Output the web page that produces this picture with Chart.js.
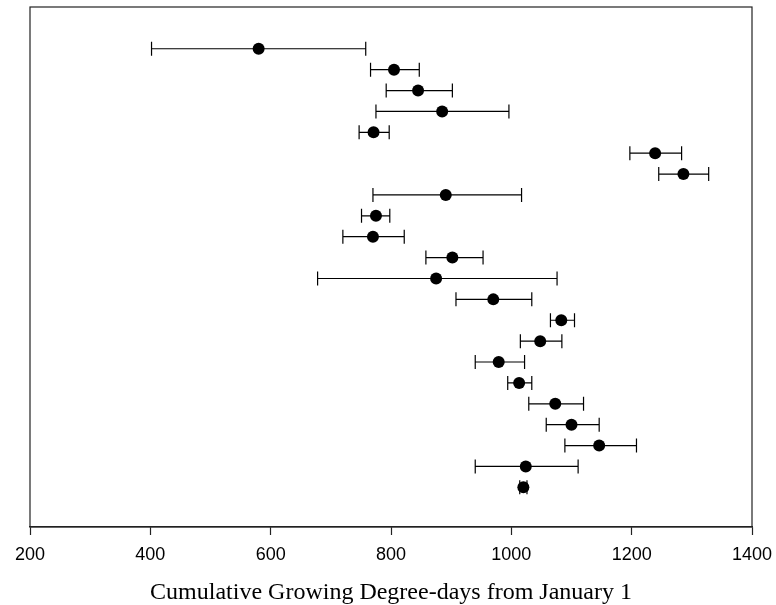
<!DOCTYPE html>
<html>
<head>
<meta charset="utf-8">
<script src="https://cdn.jsdelivr.net/npm/chart.js@4"></script>
<style>
  html, body { margin: 0; padding: 0; background: #fff; }
  #wrap { width: 776px; height: 605px; }
</style>
</head>
<body>
<div id="wrap"><canvas id="c" width="776" height="605"></canvas></div>
<script>
// Cumulative growing degree-days (mean, lower and upper bound) per row, top to bottom
const rows    = [1, 2, 3, 4, 5, 6, 7, 8, 9, 10, 11, 12, 13, 14, 15, 16, 17, 18, 19, 20, 21, 22];
const means   = [580, 805, 845, 885, 771, 1239, 1286, 891, 775, 770, 902, 875, 970, 1083, 1048, 979, 1013, 1073, 1100, 1146, 1024, 1020];
const lows    = [402, 766, 792, 775, 747, 1197, 1245, 770, 751, 720, 858, 678, 908, 1065, 1015, 940, 994, 1029, 1058, 1089, 940, 1014];
const highs   = [758, 847, 902, 996, 797, 1283, 1328, 1017, 798, 822, 953, 1076, 1034, 1105, 1084, 1022, 1034, 1120, 1146, 1208, 1111, 1026];
const xTicks  = [200, 400, 600, 800, 1000, 1200, 1400];
const xTitle  = 'Cumulative Growing Degree-days from January 1';

const points = means.map((m, i) => ({ x: m, y: rows[i] }));

const errorBars = {
  id: 'errorBars',
  beforeDatasetsDraw(chart) {
    const ctx = chart.ctx, xs = chart.scales.x, ys = chart.scales.y;
    ctx.save();
    ctx.strokeStyle = '#000';
    ctx.lineWidth = 1.2;
    const cap = 7;
    rows.forEach((r, i) => {
      const y = ys.getPixelForValue(r);
      const x1 = xs.getPixelForValue(lows[i]);
      const x2 = xs.getPixelForValue(highs[i]);
      ctx.beginPath();
      ctx.moveTo(x1, y); ctx.lineTo(x2, y);
      ctx.moveTo(x1, y - cap); ctx.lineTo(x1, y + cap);
      ctx.moveTo(x2, y - cap); ctx.lineTo(x2, y + cap);
      ctx.stroke();
    });
    ctx.restore();
  }
};

const frame = {
  id: 'frame',
  afterDraw(chart) {
    const a = chart.chartArea, ctx = chart.ctx;
    ctx.save();
    ctx.strokeStyle = '#222';
    ctx.lineWidth = 1.2;
    ctx.strokeRect(a.left, a.top, a.right - a.left, a.bottom - a.top);
    ctx.restore();
  }
};

new Chart(document.getElementById('c'), {
  type: 'scatter',
  data: {
    datasets: [{
      data: points,
      pointRadius: 6,
      pointHoverRadius: 6,
      backgroundColor: '#000',
      borderColor: '#000',
      borderWidth: 0
    }]
  },
  options: {
    responsive: false,
    animation: false,
    layout: { padding: { left: 30, right: 24, top: 7, bottom: 0 } },
    plugins: { legend: { display: false }, tooltip: { enabled: false } },
    scales: {
      x: {
        type: 'linear',
        min: 200, max: 1400,
        afterBuildTicks(scale) { scale.ticks = xTicks.map(v => ({ value: v })); },
        afterFit(scale) { scale.height = 78; scale.paddingLeft = 0; scale.paddingRight = 0; },
        grid: { drawOnChartArea: false, drawTicks: true, tickLength: 8, color: '#222', tickWidth: 1.2 },
        border: { display: true, color: '#222', width: 1.2 },
        ticks: {
          color: '#000', padding: 9.5, maxRotation: 0,
          callback: v => String(v),
          font: { family: '"Liberation Sans", Arial, sans-serif', size: 18 }
        },
        title: {
          display: true, text: xTitle, color: '#000',
          font: { family: '"Liberation Serif", "Times New Roman", serif', size: 24, lineHeight: 1.0 },
          padding: { top: 0, bottom: 0 }
        }
      },
      y: {
        type: 'linear', reverse: true, min: -1, max: 23.9, display: false
      }
    }
  },
  plugins: [errorBars, frame]
});
</script>
</body>
</html>
